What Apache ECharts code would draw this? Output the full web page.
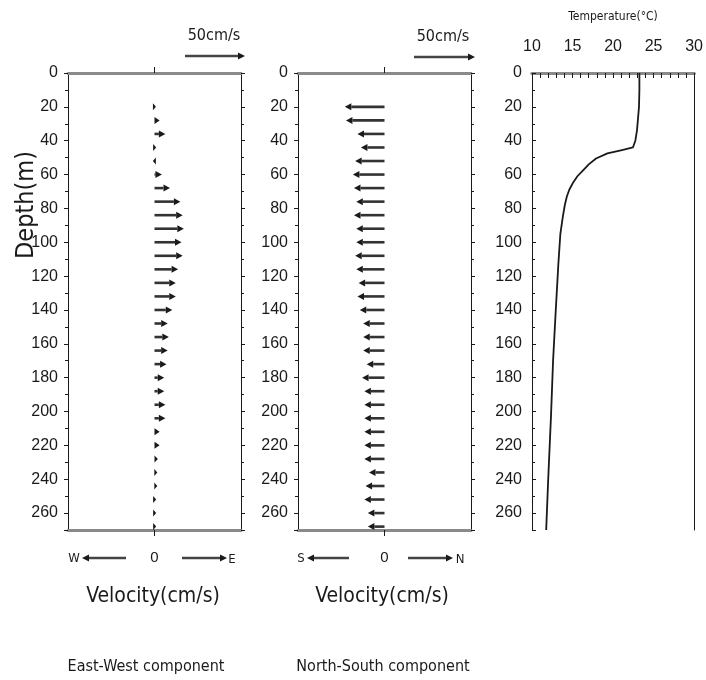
<!DOCTYPE html>
<html>
<head>
<meta charset="utf-8">
<script src="https://cdn.jsdelivr.net/npm/echarts@6/dist/echarts.min.js"></script>
<style>
  html, body { margin: 0; padding: 0; background: #fff; }
  #chart { width: 706px; height: 680px; }
</style>
</head>
<body>
<div id="chart"></div>
<script>
// 流速剖面 + 温度剖面

// ADCP bins (m)
var binDepth = [20, 28, 36, 44, 52, 60, 68, 76, 84, 92, 100, 108, 116, 124, 132, 140,
                148, 156, 164, 172, 180, 188, 196, 204, 212, 220, 228, 236, 244, 252, 260, 268];
// east (+) / west (-) component, cm/s
var ewSpeed = [0.8, 4, 9, 1, -1, 6, 13, 22, 24, 25, 23, 24, 20, 18, 18, 15,
               11, 12, 11, 10, 8, 8, 9, 9, 4, 4, 2.5, 2, 2, 1, 1, 1];
// north (+) / south (-) component, cm/s
var nsSpeed = [-34, -33, -23, -20, -25, -27, -26, -24, -26, -24, -24, -25, -24, -22, -23, -21,
               -18, -18, -18, -15, -19, -17, -17, -17, -17, -17, -17, -13, -16, -17, -14, -14];

// CTD temperature profile
var tempDepth = [0, 10, 20, 28, 34, 40, 44, 45.5, 47.5, 50.5, 54, 57.5, 61, 64.5, 69, 73,
                 78, 85, 95, 113, 143, 170, 202, 240, 270];
var tempValue = [23.25, 23.25, 23.2, 23.06, 22.95, 22.75, 22.45, 21.1, 19.3, 17.9, 17.0, 16.3,
                 15.6, 15.1, 14.6, 14.3, 14.05, 13.8, 13.5, 13.25, 12.9, 12.6, 12.35, 12.0, 11.75];

var depthTicks = [0, 20, 40, 60, 80, 100, 120, 140, 160, 180, 200, 220, 240, 260];

var chart = echarts.init(document.getElementById('chart'));

var FONT = "'Liberation Sans', Arial, sans-serif";
var NARROW = "'Liberation Sans Narrow', 'DejaVu Sans Condensed', sans-serif";
var INK = '#1a1a1a';
var GRAYLINE = '#8a8a8a';

function pairs(xs, ys) {
    var out = [];
    for (var i = 0; i < xs.length; i++) out.push([xs[i], ys[i]]);
    return out;
}

function renderArrow(params, api) {
    var v = api.value(0);
    var d = api.value(1);
    var p0 = api.coord([0, d]);
    var p1 = api.coord([v, d]);
    var dir = p1[0] >= p0[0] ? 1 : -1;
    var len = Math.abs(p1[0] - p0[0]);
    var head = Math.min(6, Math.max(len, 2.5));
    var children = [];
    if (len > head) {
        children.push({
            type: 'line',
            shape: { x1: p0[0], y1: p0[1], x2: p1[0] - dir * head, y2: p1[1] },
            style: { stroke: '#333', lineWidth: 2.6 }
        });
    }
    children.push({
        type: 'polygon',
        shape: { points: [[p1[0] + dir * 0.5, p1[1]], [p1[0] - dir * head, p1[1] - 3.5], [p1[0] - dir * head, p1[1] + 3.5]] },
        style: { fill: INK }
    });
    return { type: 'group', children: children };
}

function velX(grid, bottom) {
    return {
        gridIndex: grid, type: 'value', min: -75, max: 75, interval: 75,
        position: bottom ? 'bottom' : 'top',
        axisLine: { show: true, onZero: false, lineStyle: { color: GRAYLINE, width: 3 } },
        axisTick: { show: true, length: 6, customValues: [0], lineStyle: { color: INK, width: 1 } },
        axisLabel: { show: bottom, customValues: [0], margin: 20, fontFamily: FONT, fontSize: 15, color: INK },
        splitLine: { show: false }
    };
}

function depthY(grid, right, showLabel, inside) {
    return {
        gridIndex: grid, type: 'value', inverse: true, min: 0, max: 270, interval: 20,
        position: right ? 'right' : 'left',
        axisLine: { show: true, onZero: false, lineStyle: { color: INK, width: 1 } },
        axisTick: { show: true, inside: inside, length: 4, lineStyle: { color: INK } },
        minorTick: { show: true, splitNumber: 2, length: 3, lineStyle: { color: INK } },
        axisLabel: { show: showLabel, customValues: depthTicks, margin: 10, fontFamily: FONT, fontSize: 16, color: INK },
        splitLine: { show: false }
    };
}

// key arrow from x1 to x2 (either direction)
function keyArrow(x1, x2, y) {
    var dir = x2 >= x1 ? 1 : -1;
    return [
        { type: 'line', shape: { x1: x1, y1: y, x2: x2 - dir * 6, y2: y }, style: { stroke: '#444', lineWidth: 2.4 } },
        { type: 'polygon', shape: { points: [[x2, y], [x2 - dir * 7, y - 3.5], [x2 - dir * 7, y + 3.5]] }, style: { fill: INK } }
    ];
}

function textAt(x, y, str, size, family, extra) {
    var t = {
        type: 'text', x: x, y: y,
        style: { text: str, fontSize: size, fontFamily: family, fill: INK, align: 'center', verticalAlign: 'middle' }
    };
    if (extra) for (var k in extra) t[k] = extra[k];
    return t;
}

var graphics = [];
graphics.push(textAt(26, 205, 'Depth(m)', 25, NARROW, { rotation: Math.PI / 2 }));
graphics.push(textAt(214, 36, '50cm/s', 16, NARROW));
graphics.push(textAt(443, 37, '50cm/s', 16, NARROW));
graphics = graphics.concat(keyArrow(185, 245, 56), keyArrow(414, 475, 57));
// direction keys under the velocity panels
graphics.push(textAt(74, 559, 'W', 13, NARROW));
graphics = graphics.concat(keyArrow(126, 82, 558), keyArrow(182, 227, 558));
graphics.push(textAt(232, 560, 'E', 13, NARROW));
graphics.push(textAt(301, 559, 'S', 13, NARROW));
graphics = graphics.concat(keyArrow(349, 307, 558), keyArrow(408, 453, 558));
graphics.push(textAt(460, 560, 'N', 13, NARROW));
graphics.push(textAt(153, 597, 'Velocity(cm/s)', 21, NARROW));
graphics.push(textAt(382, 597, 'Velocity(cm/s)', 21, NARROW));
graphics.push(textAt(146, 667, 'East-West component', 16, NARROW));
graphics.push(textAt(383, 667, 'North-South component', 16, NARROW));

var option = {
    backgroundColor: '#fff',
    animation: false,
    textStyle: { fontFamily: FONT },
    grid: [
        { left: 68, top: 73, width: 173, height: 457 },
        { left: 298, top: 73, width: 173, height: 457 },
        { left: 532, top: 73, width: 168, height: 457 }
    ],
    xAxis: [
        velX(0, true), velX(0, false),
        velX(1, true), velX(1, false),
        {
            gridIndex: 2, type: 'value', min: 10, max: 30, interval: 5, position: 'top',
            name: 'Temperature(°C)', nameLocation: 'middle', nameGap: 50,
            nameTextStyle: { fontFamily: NARROW, fontSize: 12, color: INK },
            axisLine: { show: true, lineStyle: { color: GRAYLINE, width: 3 } },
            axisTick: { show: true, inside: true, length: 5, lineStyle: { color: INK } },
            minorTick: { show: true, splitNumber: 5, length: 5, lineStyle: { color: INK } },
            axisLabel: { margin: 18, fontFamily: FONT, fontSize: 16, color: INK },
            splitLine: { show: false }
        },
        {
            gridIndex: 2, type: 'value', min: 10, max: 30, position: 'bottom',
            axisLine: { show: true, lineStyle: { color: GRAYLINE, width: 3 } },
            axisTick: { show: false }, axisLabel: { show: false }, splitLine: { show: false }
        }
    ],
    yAxis: [
        depthY(0, false, true, false), depthY(0, true, false, false),
        depthY(1, false, true, false), depthY(1, true, false, false),
        depthY(2, false, true, true),
        {
            gridIndex: 2, type: 'value', inverse: true, min: 0, max: 270, position: 'right',
            axisLine: { show: true, lineStyle: { color: INK, width: 1 } },
            axisTick: { show: false }, axisLabel: { show: false }, splitLine: { show: false }
        }
    ],
    series: [
        {
            name: 'East-West', type: 'custom', xAxisIndex: 0, yAxisIndex: 0,
            renderItem: renderArrow, data: pairs(ewSpeed, binDepth)
        },
        {
            name: 'North-South', type: 'custom', xAxisIndex: 2, yAxisIndex: 2,
            renderItem: renderArrow, data: pairs(nsSpeed, binDepth)
        },
        {
            name: 'Temperature', type: 'line', xAxisIndex: 4, yAxisIndex: 4,
            showSymbol: false, smooth: false,
            lineStyle: { color: INK, width: 1.8 },
            data: pairs(tempValue, tempDepth)
        }
    ],
    graphic: graphics
};
chart.setOption(option);
</script>
</body>
</html>
